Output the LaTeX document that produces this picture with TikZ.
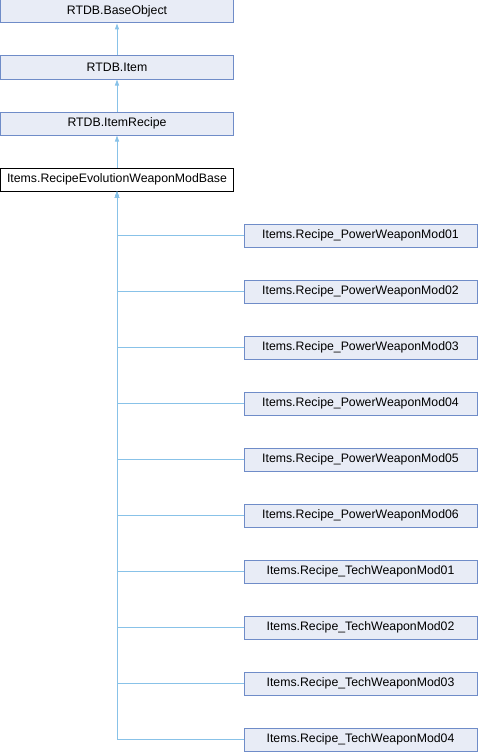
\documentclass[tikz,border=0pt]{standalone}
\usepackage{fontspec}
\setmainfont{Liberation Sans}
\usetikzlibrary{arrows.meta}
\definecolor{boxfill}{RGB}{232,236,246}
\definecolor{boxline}{RGB}{111,140,200}
\definecolor{edgeblue}{RGB}{136,194,232}

\begin{document}
\begin{tikzpicture}[x=1pt,y=-1pt,
  cls/.style={draw=boxline,fill=boxfill,line width=1pt,minimum width=233pt,
    minimum height=23pt,inner sep=0pt,font=\fontsize{12.3}{14}\selectfont},
  cur/.style={cls,draw=black,fill=white},
  inh/.style={draw=edgeblue,line width=1pt,
    -{Triangle[open,fill=edgeblue,width=4pt,length=6pt]}}]
\useasboundingbox (0,0) rectangle (478,752);
\node[cls] (obj) at (117,11.5) {RTDB.BaseObject};
\node[cls] (item) at (117,67.5) {RTDB.Item};
\node[cls] (recipe) at (117,123.5) {RTDB.ItemRecipe};
\node[cur] (base) at (117,179.5) {Items.RecipeEvolutionWeaponModBase};
\node[cls] (pw1) at (360.5,235.5) {Items.Recipe\_PowerWeaponMod01};
\node[cls] (pw2) at (360.5,291.5) {Items.Recipe\_PowerWeaponMod02};
\node[cls] (pw3) at (360.5,347.5) {Items.Recipe\_PowerWeaponMod03};
\node[cls] (pw4) at (360.5,403.5) {Items.Recipe\_PowerWeaponMod04};
\node[cls] (pw5) at (360.5,459.5) {Items.Recipe\_PowerWeaponMod05};
\node[cls] (pw6) at (360.5,515.5) {Items.Recipe\_PowerWeaponMod06};
\node[cls] (tw1) at (360.5,571.5) {Items.Recipe\_TechWeaponMod01};
\node[cls] (tw2) at (360.5,627.5) {Items.Recipe\_TechWeaponMod02};
\node[cls] (tw3) at (360.5,683.5) {Items.Recipe\_TechWeaponMod03};
\node[cls] (tw4) at (360.5,739.5) {Items.Recipe\_TechWeaponMod04};
\path[inh]
(item) edge (obj)
(recipe) edge (item)
(base) edge (recipe);
\draw[inh] (pw1.west) -| (base.south);
\draw[inh] (pw2.west) -| (base.south);
\draw[inh] (pw3.west) -| (base.south);
\draw[inh] (pw4.west) -| (base.south);
\draw[inh] (pw5.west) -| (base.south);
\draw[inh] (pw6.west) -| (base.south);
\draw[inh] (tw1.west) -| (base.south);
\draw[inh] (tw2.west) -| (base.south);
\draw[inh] (tw3.west) -| (base.south);
\draw[inh] (tw4.west) -| (base.south);
\end{tikzpicture}
\end{document}
